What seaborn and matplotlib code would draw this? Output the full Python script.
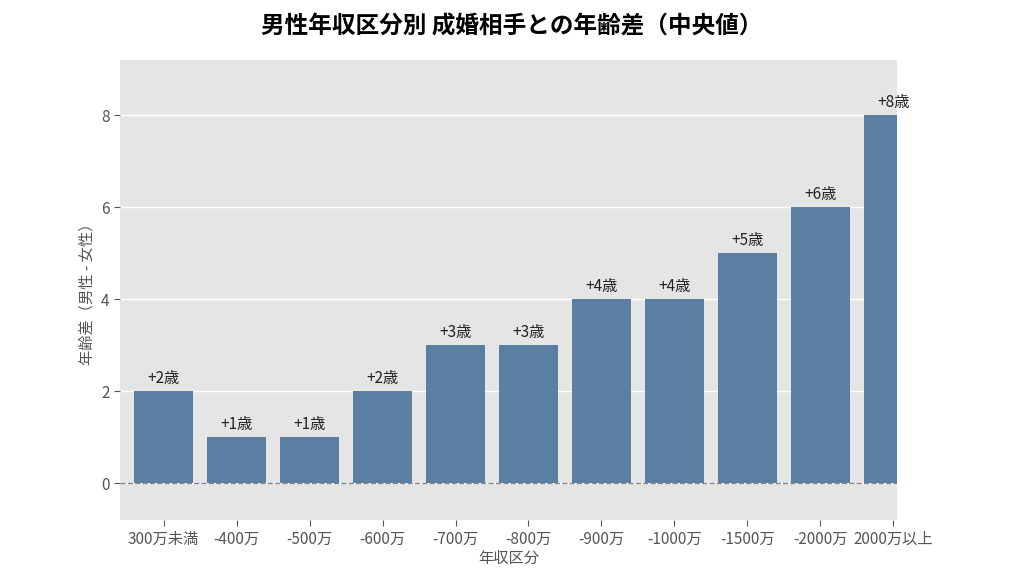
import matplotlib
matplotlib.use("Agg")
import matplotlib.pyplot as plt
import seaborn as sns
import pandas as pd

plt.rcParams["font.family"] = "Noto Sans CJK JP"

categories = ["300万未満", "-400万", "-500万", "-600万", "-700万", "-800万", "-900万", "-1000万", "-1500万", "-2000万", "2000万以上"]
values = [2, 1, 1, 2, 3, 3, 4, 4, 5, 6, 8]
df = pd.DataFrame({"cat": categories, "val": values})

fig = plt.figure(figsize=(10.24, 5.76), dpi=100)
ax = fig.add_axes([0.117, 0.097, 0.759, 0.799])
ax.set_facecolor("#e5e5e5")
ax.grid(axis="y", color="white", linewidth=1)
ax.set_axisbelow(True)
sns.barplot(data=df, x="cat", y="val", color="#5b7fa3", saturation=1, width=0.8, ax=ax)
for i, v in enumerate(values):
    ax.text(i, v + 0.1, f"+{v}歳", ha="center", va="bottom", fontsize=11, color="#222222")
ax.axhline(0, color="#888888", linestyle="--", linewidth=1)
ax.set_ylim(-0.8, 9.2)
ax.set_xlim(-0.6, 10.05)
ax.set_yticks([0, 2, 4, 6, 8])
for s in ax.spines.values():
    s.set_visible(False)
ax.tick_params(axis="both", colors="#555555", labelsize=11, length=4)
ax.tick_params(axis="x", colors="#555555")
ax.set_xlabel("年収区分", fontsize=11, color="#555555", labelpad=2)
ax.set_ylabel("年齢差（男性 - 女性）", fontsize=11, color="#555555")
fig.suptitle("男性年収区分別 成婚相手との年齢差（中央値）", fontsize=17, fontweight="bold", y=0.975, x=0.5)
fig.savefig("out.png", dpi=100, facecolor="white")
